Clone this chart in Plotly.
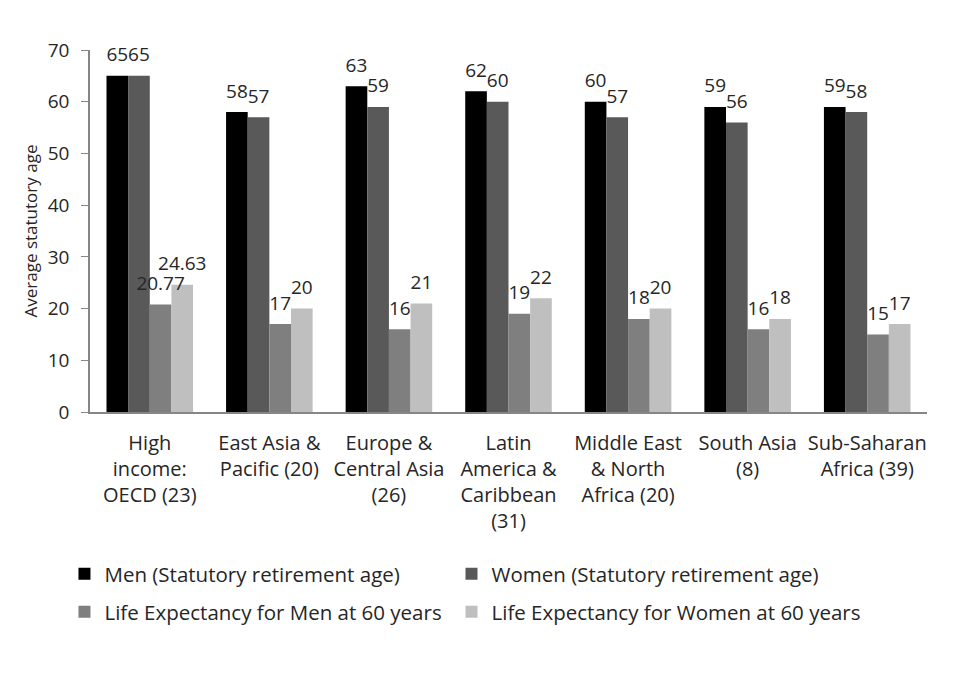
import plotly.graph_objects as go

categories = [
    "High<br>income:<br>OECD (23)",
    "East Asia &<br>Pacific (20)",
    "Europe &<br>Central Asia<br>(26)",
    "Latin<br>America &<br>Caribbean<br>(31)",
    "Middle East<br>& North<br>Africa (20)",
    "South Asia<br>(8)",
    "Sub-Saharan<br>Africa (39)",
]
men_retire = [65, 58, 63, 62, 60, 59, 59]
women_retire = [65, 57, 59, 60, 57, 56, 58]
men_life = [20.77, 17, 16, 19, 18, 16, 15]
women_life = [24.63, 20, 21, 22, 20, 18, 17]
y_ticks = [0, 10, 20, 30, 40, 50, 60, 70]

series_names = [
    "Men (Statutory retirement age)",
    "Women (Statutory retirement age)",
    "Life Expectancy for Men at 60 years",
    "Life Expectancy for Women at 60 years",
]
series_values = [men_retire, women_retire, men_life, women_life]
colors = ["#000000", "#595959", "#7f7f7f", "#bfbfbf"]
legend_ids = ["legend", "legend2", "legend3", "legend4"]

FONT = "Open Sans"
TXT = "#262626"
BARGAP = 0.276
n_series = len(series_names)
pos = list(range(len(categories)))
bar_w = (1 - BARGAP) / n_series

fig = go.Figure()
for name, vals, col, lg in zip(series_names, series_values, colors, legend_ids):
    fig.add_trace(go.Bar(
        x=pos, y=vals, name=name,
        marker=dict(color=col, line=dict(width=0)),
        legend=lg, hoverinfo="skip",
    ))

# data labels, drawn above all bars
for k, vals in enumerate(series_values):
    off = -(1 - BARGAP) / 2 + (k + 0.5) * bar_w
    fig.add_trace(go.Scatter(
        x=[p + off for p in pos], y=vals,
        mode="markers+text",
        marker=dict(size=14, color="rgba(0,0,0,0)"),
        text=[f"{v:g}" for v in vals],
        textposition="top center",
        textfont=dict(family=FONT, size=19, color=TXT),
        cliponaxis=False, showlegend=False, hoverinfo="skip",
    ))

legend_x = [-0.0305, 0.4319, -0.0305, 0.4319]
legend_y = [-0.4475, -0.4475, -0.5525, -0.5525]
legend_cfg = {}
for lg, lx, ly in zip(legend_ids, legend_x, legend_y):
    legend_cfg[lg] = dict(
        orientation="h", x=lx, xanchor="left", y=ly, yanchor="middle",
        font=dict(family=FONT, size=20.5, color=TXT),
        bgcolor="rgba(0,0,0,0)",
    )

fig.update_layout(
    width=960, height=676,
    paper_bgcolor="white", plot_bgcolor="white",
    margin=dict(l=82, r=41, t=42, b=272),
    barmode="group", bargap=BARGAP, bargroupgap=0,
    font=dict(family=FONT, size=18, color=TXT),
    showlegend=True,
    xaxis=dict(
        range=[-0.5, len(categories) - 0.5],
        tickmode="array", tickvals=pos, ticktext=categories,
        showline=True, linecolor="#868686", linewidth=1.5,
        ticks="", ticklabelstandoff=12,
        tickfont=dict(family=FONT, size=20, color=TXT),
        showgrid=False, zeroline=False,
    ),
    yaxis=dict(
        range=[0, 70], tickmode="array", tickvals=y_ticks,
        showline=True, linecolor="#868686", linewidth=1.5,
        ticks="outside", ticklen=7, tickcolor="#868686", ticklabelstandoff=8,
        tickfont=dict(family=FONT, size=19, color=TXT),
        showgrid=False, zeroline=False,
        title=dict(text="Average statutory age", font=dict(family=FONT, size=17, color=TXT), standoff=6),
    ),
    **legend_cfg,
)

fig.write_html("out.html")
